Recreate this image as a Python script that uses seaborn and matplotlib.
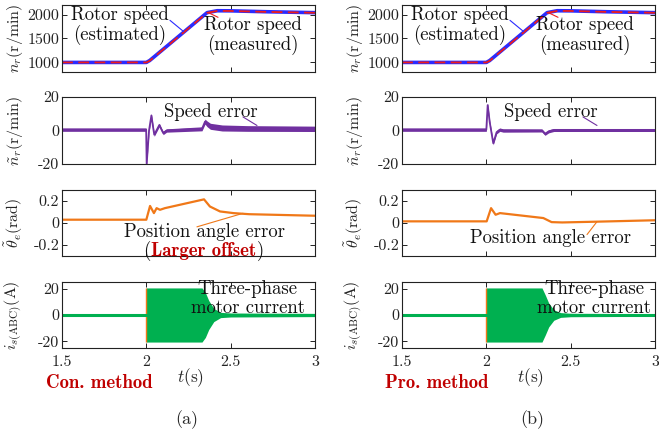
import matplotlib
matplotlib.use("Agg")
import matplotlib.pyplot as plt
import seaborn as sns
from matplotlib.ticker import FuncFormatter

# ---- data (time in s) ----
speed_t = [1.5, 2.0, 2.02, 2.36, 2.42, 2.5, 2.7, 3.0]
speed_est = [1000, 1000, 1040, 2040, 2080, 2078, 2060, 2040]
speed_meas = [1000, 1000, 1035, 2035, 2076, 2075, 2057, 2037]

err_a_t = [1.5, 1.999, 2.002, 2.016, 2.03, 2.04, 2.047, 2.06, 2.077, 2.09, 2.10, 2.12,
           2.33, 2.348, 2.36, 2.38, 2.45, 2.6, 3.0]
err_a = [0.5, 0.5, -20, 0, 9, 2, -2.5, 0, 3.3, 0.5, -1.5, 0,
         1, 5.3, 4, 2.5, 1.5, 1.2, 1]
err_a_band = [1.0, 1.0, 1.0, 1.0, 1.0, 1.0, 1.0, 1.0, 1.0, 1.0, 1.0, 1.0,
              1.2, 1.5, 1.7, 1.8, 1.8, 1.7, 1.6]

err_b_t = [1.5, 2.0, 2.008, 2.02, 2.041, 2.061, 2.08, 2.10, 2.33, 2.348, 2.37, 2.4, 3.0]
err_b = [0.5, 0.5, 15.2, 5, -7.6, -1, 0.5, 0, 0, -2, -0.5, 0.3, 0.3]
err_b_band = [1.0, 1.0, 1.0, 1.0, 1.0, 1.0, 1.0, 1.0, 0.9, 0.9, 0.9, 0.9, 0.9]

theta_a_t = [1.5, 2.0, 2.022, 2.045, 2.061, 2.081, 2.11, 2.342, 2.377, 2.437, 2.516, 2.61, 3.0]
theta_a = [0.03, 0.03, 0.155, 0.09, 0.135, 0.12, 0.135, 0.215, 0.15, 0.105, 0.09, 0.08, 0.066]

theta_b_t = [1.5, 2.002, 2.028, 2.055, 2.081, 2.338, 2.387, 2.45, 2.654, 3.0]
theta_b = [0.015, 0.015, 0.135, 0.075, 0.09, 0.045, 0.008, 0.005, 0.012, 0.025]

cur_a_t = [1.5, 1.999, 2.0, 2.33, 2.35, 2.37, 2.40, 2.44, 2.5, 3.0]
cur_a_env = [0.5, 0.5, 20.5, 20.5, 17, 11, 5, 2, 1.5, 1.2]
cur_b_t = [1.5, 1.999, 2.0, 2.33, 2.35, 2.37, 2.40, 2.44, 2.5, 3.0]
cur_b_env = [0.5, 0.5, 20.5, 20.5, 15, 9, 4, 1.8, 1.3, 1.0]
cur_first_t = [2.0]

x_ticks = [1.5, 2, 2.5, 3]

C_EST = "#2b2bff"
C_MEAS = "#ee1c1c"
C_ERR = "#7030a0"
C_THETA = "#f07818"
C_CUR = "#00b050"
C_RED = "#c00000"

sns.set_theme(style="ticks")
plt.rcParams["font.family"] = ["cmr10", "DejaVu Serif"]
plt.rcParams["mathtext.fontset"] = "cm"
plt.rcParams["axes.unicode_minus"] = False

W, H = 659, 434
fig = plt.figure(figsize=(W / 100, H / 100), dpi=100)


def rect(x, y, w, h):
    return [x / W, 1 - (y + h) / H, w / W, h / H]


def style(ax, ylim, yticks, ylabel, bottom=False):
    ax.set_xlim(1.5, 3)
    ax.set_ylim(*ylim)
    ax.set_xticks(x_ticks)
    ax.set_yticks(yticks)
    fmt = FuncFormatter(lambda v, _: f"{v:g}")
    ax.xaxis.set_major_formatter(fmt)
    ax.yaxis.set_major_formatter(fmt)
    ax.tick_params(direction="in", top=True, right=True, length=3.5, width=0.7,
                   labelsize=11.5, colors="#222222")
    ax.tick_params(axis="y", pad=2)
    ax.tick_params(axis="x", pad=5, labelbottom=bottom)
    for sp in ax.spines.values():
        sp.set_linewidth(0.8)
        sp.set_color("#222222")
    ax.set_xlabel("")
    ax.set_ylabel(ylabel, fontsize=11.5, color="#222222")
    ax.yaxis.set_label_coords(-0.145, 0.5)


def leader(ax, p_text, p_curve, color):
    ax.annotate("", xy=p_curve, xytext=p_text, annotation_clip=False,
                arrowprops=dict(arrowstyle="-", color=color, lw=0.8, shrinkA=0, shrinkB=0))


TXT = dict(fontsize=13.5, ha="center", va="center", linespacing=1.05, color="#111111")

cols = [62, 402]
tops = [5, 97, 190, 282]
heights = [67, 67, 66, 66]

panels = [
    dict(err_t=err_a_t, err=err_a, band=err_a_band, th_t=theta_a_t, th=theta_a,
         cur_t=cur_a_t, cur=cur_a_env, meas_x=2.632, phase_x=2.60,
         method="Con. method", tag="(a)"),
    dict(err_t=err_b_t, err=err_b, band=err_b_band, th_t=theta_b_t, th=theta_b,
         cur_t=cur_b_t, cur=cur_b_env, meas_x=2.585, phase_x=2.638,
         method="Pro. method", tag="(b)"),
]

for k, (x0, p) in enumerate(zip(cols, panels)):
    ax1, ax2, ax3, ax4 = [fig.add_axes(rect(x0, t, 253, h)) for t, h in zip(tops, heights)]

    # rotor speed
    sns.lineplot(x=speed_t, y=speed_est, ax=ax1, color=C_EST, lw=2.6)
    sns.lineplot(x=speed_t, y=speed_meas, ax=ax1, color=C_MEAS, lw=1.3, dashes=False)
    ax1.lines[-1].set_dashes([6, 3])
    style(ax1, (800, 2200), [1000, 1500, 2000], r"$n_r$(r/min)")
    ax1.text(1.844, 1774, "Rotor speed\n(estimated)", **TXT)
    ax1.text(p["meas_x"], 1560, "Rotor speed\n(measured)", **TXT)
    leader(ax1, (2.14, 1880), (2.221, 1645), C_EST)
    leader(ax1, (2.425, 1943), (2.365, 2045), C_MEAS)

    # speed error
    lo = [m - b for m, b in zip(p["err"], p["band"])]
    hi = [m + b for m, b in zip(p["err"], p["band"])]
    ax2.fill_between(p["err_t"], lo, hi, color=C_ERR, lw=0)
    sns.lineplot(x=p["err_t"], y=p["err"], ax=ax2, color=C_ERR, lw=1.3)
    style(ax2, (-20, 20), [-20, 0, 20], r"$\tilde{n}_r$(r/min)")
    ax2.text(2.383, 11.0, "Speed error", **TXT)
    leader(ax2, (2.573, 8.1), (2.656, 3.0), C_ERR)

    # position angle error
    sns.lineplot(x=p["th_t"], y=p["th"], ax=ax3, color=C_THETA, lw=1.6)
    style(ax3, (-0.3, 0.3), [-0.2, 0, 0.2], r"$\tilde{\theta}_e$(rad)")
    if k == 0:
        ax3.text(2.342, -0.078, "Position angle error", **TXT)
        ax3.text(2.342, -0.25, "Larger offset", fontsize=13.5, ha="center", va="center",
                 color=C_RED, family="cmb10")
        ax3.text(2.004, -0.25, "(", **TXT)
        ax3.text(2.680, -0.25, ")", **TXT)
        leader(ax3, (2.30, -0.035), (2.573, 0.088), C_THETA)
    else:
        ax3.text(2.383, -0.14, "Position angle error", **TXT)
        leader(ax3, (2.597, -0.105), (2.656, 0.012), C_THETA)

    # three-phase current
    env = p["cur"]
    ax4.fill_between(p["cur_t"], [-e for e in env], env, color=C_CUR, lw=0)
    ax4.vlines(cur_first_t, -20.5, 20.5, color=C_THETA, lw=1.0)
    sns.lineplot(x=p["cur_t"], y=[0] * len(env), ax=ax4, color=C_CUR, lw=2.2)
    style(ax4, (-25, 25), [-20, 0, 20], r"$i_{s\mathrm{(ABC)}}$(A)", bottom=True)
    ax4.text(p["phase_x"], 12.7, "Three-phase\nmotor current", **TXT)

    dx = x0 - 62
    fig.text((190 + dx) / W, 1 - 378 / H, r"$t$(s)", fontsize=12.5, ha="center", va="center")
    fig.text((99 + dx - (2 if k else 0)) / W, 1 - 383 / H, p["method"], fontsize=13.5,
             ha="center", va="center", color=C_RED, family="cmb10")
    fig.text((187 + dx + (5 if k else 0)) / W, 1 - 420 / H, p["tag"], fontsize=13,
             ha="center", va="center")

fig.savefig("out.png", dpi=100)
